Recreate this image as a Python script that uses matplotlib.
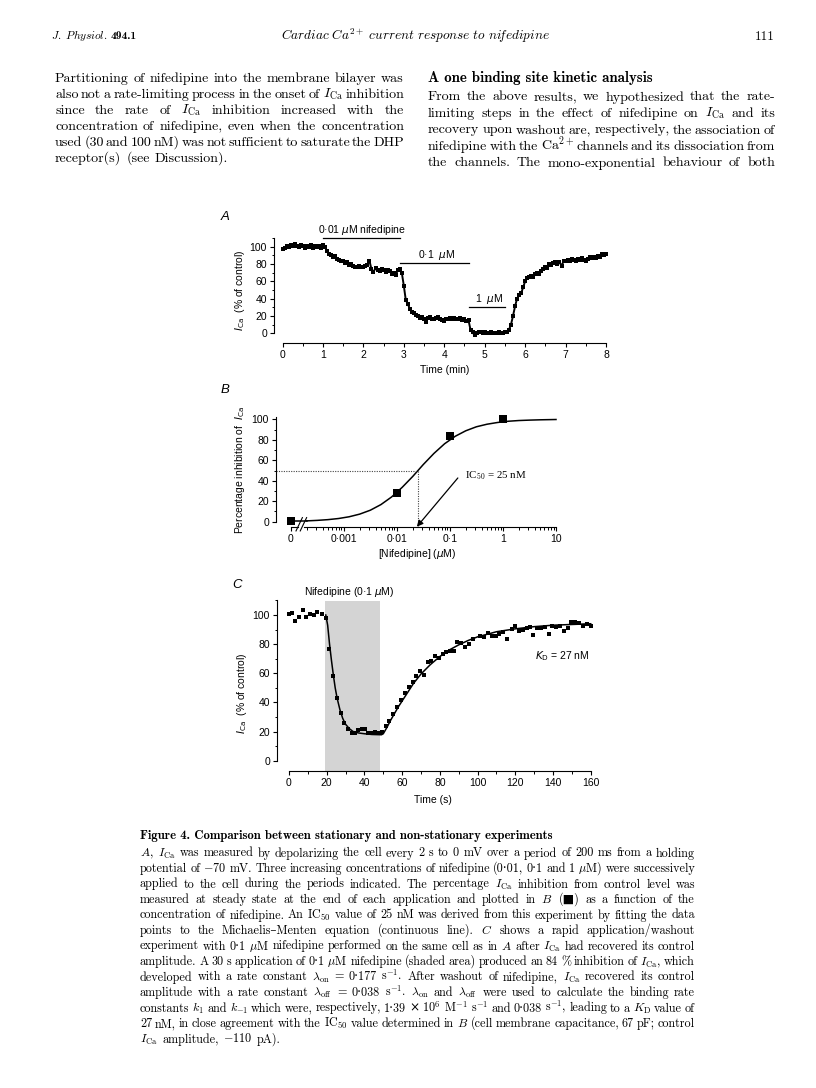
import matplotlib
matplotlib.use('Agg')
import matplotlib.pyplot as plt
import numpy as np
from matplotlib.patches import Rectangle

W, H = 816, 1088
plt.rcParams['mathtext.fontset'] = 'cm'
fig = plt.figure(figsize=(W / 100, H / 100), dpi=100)
fig.patch.set_facecolor('white')
renderer = fig.canvas.get_renderer()

SERIF = ['cmr10', 'DejaVu Serif', 'DejaVu Sans']
SERIF_B = ['cmb10', 'DejaVu Serif', 'DejaVu Sans']
SANS = ['Liberation Sans', 'DejaVu Sans']

# ---------------- data ----------------
# Panel A: I_Ca (% of control) sampled every 0.05 min
timeA_step = 0.05
valuesA = [97, 99, 101, 100, 102, 101, 103, 101, 100, 102,
           101, 99, 101, 100, 102, 99, 101, 100, 101, 99,
           102, 100, 95, 92, 90, 88, 89, 86, 85, 84,
           83, 81, 82, 79, 80, 78, 77, 76, 78, 77,
           76, 78, 79, 84, 74, 71, 75, 73, 72, 74,
           73, 71, 73, 72, 69, 70, 67, 73, 74, 70,
           55, 38, 34, 28, 25, 24, 21, 20, 18, 19,
           17, 13, 18, 19, 17, 16, 18, 19, 16, 15,
           14, 17, 16, 18, 17, 18, 17, 16, 18, 15,
           16, 14, 15, 4, 1, -2, 0, 1, 2, 0,
           1, 0, 0, 1, 0, 0, 0, 1, 0, 0,
           1, 2, 4, 10, 20, 31, 40, 44, 46, 53,
           60, 64, 65, 66, 65, 68, 70, 68, 72, 74,
           76, 75, 80, 79, 81, 82, 80, 82, 78, 83,
           84, 85, 84, 86, 85, 84, 86, 85, 87, 85,
           83, 86, 88, 87, 88, 87, 89, 88, 92, 90,
           91]
drug_labels = ['0·01 $\\mu$M nifedipine', '0·1  $\\mu$M', '1  $\\mu$M']
drug_start = [1.0, 2.9, 4.6]
drug_end = [2.9, 4.6, 5.5]
drug_bar_level = [110, 81, 30.5]

# Panel B: concentration-inhibition
concB = [0, 0.01, 0.1, 1]
inhibB = [1, 28, 84, 100]
fit_logc = [-3.7, -3.5, -3.3, -3.1, -2.9, -2.7, -2.5, -2.3, -2.1, -1.9, -1.7,
            -1.5, -1.3, -1.1, -0.9, -0.7, -0.5, -0.3, -0.1, 0.1, 0.3, 0.5, 0.7, 1.0]
fit_inhib = [0.8, 1.3, 2.0, 3.1, 4.8, 7.4, 11.2, 16.7, 24.1, 33.5, 44.2,
             55.9, 66.7, 76.1, 83.4, 88.8, 92.7, 95.2, 96.9, 98.1, 98.8, 99.2, 99.5, 99.8]
xtick_labelsB = ['0', '0·001', '0·01', '0·1', '1', '10']
ic50 = 0.025

# Panel C: rapid application / washout
timeC = [0, 1.4, 3.2, 5.5, 7.3, 9.0, 11.1, 13.3, 15.0, 17.3, 19.6, 21.4, 23.5, 25.3,
         27.4, 29.2, 31.5, 33.2, 35.0, 36.8, 38.5, 40.3, 42.1, 43.9, 45.6, 47.4, 49.5,
         51.5, 53.2, 55.3, 57.1, 59.2, 61.4, 63.5, 65.6, 67.4, 69.5, 71.6, 73.7, 75.5,
         77.6, 79.4, 81.5, 83.3, 85.4, 87.5, 89.3, 91.4, 93.5, 95.3, 97.4, 101.3, 103.4,
         105.6, 107.7, 109.8, 111.6, 113.7, 115.8, 118.0, 119.7, 121.8, 124.0, 126.1,
         127.9, 129.6, 131.7, 133.9, 136.0, 137.8, 139.5, 141.6, 143.8, 145.9, 148.0,
         149.8, 151.9, 153.7, 155.8, 157.9, 160.0]
valuesC = [100.4, 101.6, 96, 98.4, 103.4, 98.8, 100.4, 100, 102.3, 101, 98, 77, 58, 43,
           32.5, 26, 22, 18.8, 19.2, 21, 22, 21.5, 19.2, 19.2, 19.4, 19.2, 20,
           23.8, 27.2, 32, 36.6, 42, 46.2, 50.3, 54.2, 58.1, 61.8, 58.6, 68, 68.6,
           71.8, 70.2, 73.2, 74.8, 75.5, 75.5, 81.2, 81, 78.2, 80, 83.5, 85.8, 85.1,
           87.9, 85.6, 85.6, 86.7, 88.5, 83.3, 90.1, 92.4, 89, 89.7, 90.8,
           92, 86.3, 90.8, 91.3, 92, 87, 92.4, 91.5, 92.4, 89.2, 90.8,
           95.4, 95.4, 94.3, 92.4, 93.8, 92.4]
fitC_t = [19.5, 20.5, 21.5, 22.5, 23.5, 24.5, 25.5, 27, 28.5, 30, 32, 34, 37, 40, 44, 49,
          50, 52, 54, 56, 58, 60, 63, 66, 70, 75, 80, 85, 90, 95, 100, 110, 120, 130,
          140, 150, 160]
fitC_v = [100, 93, 80, 69, 59, 50, 43, 35, 29, 25, 22, 20, 19, 18.5, 18, 17.8,
          18.5, 23, 28, 32.5, 37, 41, 47, 53, 59.5, 66, 71.5, 76, 79.5, 82.5, 85, 88.5,
          90.5, 92, 93, 93.5, 94]
shade_start, shade_end = 19, 48.5


# ---------------- helpers ----------------
def fx(px):
    return px / W


def fy(py):
    return 1 - py / H


def ftext(x, y, s, **kw):
    return fig.text(fx(x), fy(y), s, **kw)


def text_width(s, size, family):
    t = fig.text(0, 0, s, fontsize=size, family=family)
    w = t.get_window_extent(renderer).width
    t.remove()
    return w


def fit_size(lines, x0, x1, family, gap_em=0.36, s0=10.0):
    sizes = []
    for line in lines[:-1]:
        words = line.split(' ')
        wsum = sum(text_width(w, s0, family) for w in words)
        sizes.append((x1 - x0) / (wsum / s0 + (len(words) - 1) * gap_em * 100 / 72))
    return float(np.median(sizes))


def fit_to_width(s, width, family, s0=10.0):
    return s0 * width / text_width(s, s0, family)


def justify(line, x0, x1, yb, size, family, last=False):
    words = line.split(' ')
    texts = [fig.text(0, fy(yb), w, fontsize=size, family=family,
                      va='baseline', ha='left') for w in words]
    widths = [t.get_window_extent(renderer).width for t in texts]
    n = len(words)
    if last or n == 1:
        gap = size * 100 / 72 * 0.36
    else:
        gap = (x1 - x0 - sum(widths)) / (n - 1)
    x = x0
    for t, w in zip(texts, widths):
        t.set_x(fx(x))
        x += w + gap


def place_axes(xa_px, xa, xb_px, xb, ya_px, ya, yb_px, yb, xlim, ylim):
    sx = (xb_px - xa_px) / (xb - xa)
    sy = (yb_px - ya_px) / (yb - ya)
    l = xa_px + (xlim[0] - xa) * sx
    r = xa_px + (xlim[1] - xa) * sx
    b = ya_px + (ylim[0] - ya) * sy
    t = ya_px + (ylim[1] - ya) * sy
    ax = fig.add_axes([l / W, 1 - b / H, (r - l) / W, (b - t) / H])
    ax.set_xlim(xlim)
    ax.set_ylim(ylim)
    ax.patch.set_alpha(0)
    for s in ['top', 'right']:
        ax.spines[s].set_visible(False)
    for s in ['left', 'bottom']:
        ax.spines[s].set_linewidth(0.8)
    ax.tick_params(which='major', direction='out', length=3, width=0.8,
                   labelsize=7.5, pad=2)
    ax.tick_params(which='minor', direction='out', length=1.8, width=0.7)
    return ax


def sans_ticklabels(ax):
    for lab in ax.get_xticklabels() + ax.get_yticklabels():
        lab.set_family(SANS)
        lab.set_fontsize(7.5)


# ---------------- page header ----------------
hdr1 = '$\\mathit{J.\\ Physiol.}$'
ftext(51, 39, hdr1, fontsize=8.2, family=SERIF, va='baseline')
ftext(51 + text_width(hdr1, 8.2, SERIF) + 3, 39, '494.1', fontsize=8.2, family=SERIF_B,
      va='baseline')
title = '$\\mathit{Cardiac\\ Ca^{2+}\\ current\\ response\\ to\\ ni\\!fedipine}$'
ftext(415, 40, title, fontsize=fit_to_width(title, 269, SERIF), family=SERIF,
      va='baseline', ha='center')
ftext(775, 40, '111', fontsize=9.5, family=SERIF, va='baseline', ha='right')

# ---------------- top body text ----------------
left_lines = [
    'Partitioning of nifedipine into the membrane bilayer was',
    'also not a rate-limiting process in the onset of $I_\\mathrm{Ca}$ inhibition',
    'since the rate of $I_\\mathrm{Ca}$ inhibition increased with the',
    'concentration of nifedipine, even when the concentration',
    'used (30 and 100 nM) was not sufficient to saturate the DHP',
    'receptor(s) (see Discussion).',
]
right_lines = [
    'From the above results, we hypothesized that the rate-',
    'limiting steps in the effect of nifedipine on $I_\\mathrm{Ca}$ and its',
    'recovery upon washout are, respectively, the association of',
    'nifedipine with the Ca$^{2+}$ channels and its dissociation from',
    'the channels. The mono-exponential behaviour of both',
]
body_size = fit_size(left_lines + right_lines + ['x'], 55, 404, SERIF)
for i, line in enumerate(left_lines):
    justify(line, 55, 404, 82 + 16 * i, body_size, SERIF,
            last=(i == len(left_lines) - 1))
heading = 'A one binding site kinetic analysis'
ftext(428, 82, heading, fontsize=fit_to_width(heading, 225, SERIF_B), family=SERIF_B,
      va='baseline')
for i, line in enumerate(right_lines):
    justify(line, 428, 775, 100.5 + 16.5 * i, body_size, SERIF)

# ---------------- panel A ----------------
axA = place_axes(282.5, 0, 606, 8, 333.3, 0, 246.7, 100,
                 xlim=(-0.21, 8.05), ylim=(-11.2, 112))
tA = np.round(np.arange(len(valuesA)) * timeA_step, 2)
axA.plot(tA, valuesA, '-', color='k', lw=1.4, marker='s', ms=2.2, mew=0, clip_on=False)
axA.spines['bottom'].set_bounds(0, 8)
axA.spines['left'].set_bounds(0, 110)
axA.set_xticks(range(0, 9))
axA.set_xticks(np.arange(0, 8.01, 0.5), minor=True)
axA.set_yticks(range(0, 101, 20))
axA.set_yticks(range(0, 111, 10), minor=True)
sans_ticklabels(axA)
for lab, s, e, lev in zip(drug_labels, drug_start, drug_end, drug_bar_level):
    axA.plot([s, e], [lev, lev], color='k', lw=0.9, clip_on=False)
    axA.text((s + e) / 2 + (0.05 if lev < 100 else 0.02), lev + 9.5, lab, ha='center',
             va='center', fontsize=7.5, family=SANS, math_fontfamily='dejavusans')
ftext(225, 217, 'A', fontsize=9.5, family=SANS, style='italic', ha='center', va='center')
ftext(240, 290, '$I_\\mathrm{Ca}$  (% of control)', fontsize=7.5, family=SANS,
      rotation=90, ha='center', va='center', math_fontfamily='dejavusans')
ftext(445, 370, 'Time (min)', fontsize=7.5, family=SANS, ha='center', va='center')

# ---------------- panel B ----------------
axB = place_axes(290.7, -4, 556, 1, 521.7, 0, 419.3, 100,
                 xlim=(-4.28, 1.02), ylim=(-4.9, 106))
posB = [np.log10(c) if c > 0 else -4 for c in concB]
axB.plot([-4, fit_logc[0]], [fit_inhib[0], fit_inhib[0]], color='k', lw=1.1)
axB.plot(fit_logc, fit_inhib, color='k', lw=1.1)
axB.plot(posB, inhibB, 's', color='k', ms=5.2, mew=0, clip_on=False)
axB.spines['bottom'].set_visible(False)
axB.spines['left'].set_bounds(0, 102)
axB.set_xticks([-4, -3, -2, -1, 0, 1])
axB.set_xticklabels(xtick_labelsB)
minorB = [np.log10(k * 10.0 ** d) for d in range(-4, 1) for k in range(2, 10)]
axB.set_xticks(minorB, minor=True)
axB.set_yticks(range(0, 101, 20))
axB.set_yticks(range(0, 101, 10), minor=True)
sans_ticklabels(axB)
yb0 = -4.9
axB.plot([-4, -3.86], [yb0, yb0], color='k', lw=0.8, clip_on=False)
axB.plot([-3.74, 1.0], [yb0, yb0], color='k', lw=0.8, clip_on=False)
for dx in (-3.9, -3.82):
    axB.plot([dx, dx + 0.12], [-9, 4], color='k', lw=0.8, clip_on=False)
lic = np.log10(ic50)
axB.plot([-4.28, lic], [50, 50], ls=(0, (1, 1.2)), color='#444444', lw=0.8)
axB.plot([lic, lic], [50, yb0], ls=(0, (1, 1.2)), color='#444444', lw=0.8)
axB.annotate('', xy=(lic - 0.02, yb0), xytext=(-0.85, 42.7),
             arrowprops=dict(arrowstyle='-|>', color='k', lw=0.9, mutation_scale=9,
                             shrinkA=0, shrinkB=0))
axB.text(-0.71, 44.7, 'IC$_{50}$ = 25 nM', fontsize=7.8, family=['Liberation Serif'],
         va='center', ha='left')
ftext(225, 390, 'B', fontsize=9.5, family=SANS, style='italic', ha='center', va='center')
ftext(240, 470, 'Percentage inhibition of  $I_\\mathrm{Ca}$', fontsize=7.5, family=SANS,
      rotation=90, ha='center', va='center', math_fontfamily='dejavusans')
ftext(417, 554, '[Nifedipine] ($\\mu$M)', fontsize=7.5, family=SANS, ha='center',
      va='center', math_fontfamily='dejavusans')

# ---------------- panel C ----------------
axC = place_axes(289, 0, 590.7, 160, 760.7, 0, 615, 100,
                 xlim=(-6.4, 162), ylim=(-7.1, 112))
axC.add_patch(Rectangle((shade_start, -7.1), shade_end - shade_start, 116.5,
                        facecolor='#d4d4d4', edgecolor='none', zorder=0))
axC.plot(fitC_t, fitC_v, color='k', lw=1.1)
axC.plot(timeC, valuesC, 's', color='k', ms=3.4, mew=0, clip_on=False)
axC.spines['bottom'].set_bounds(0, 160)
axC.spines['left'].set_bounds(0, 110)
axC.set_xticks(range(0, 161, 20))
axC.set_xticks(range(0, 161, 10), minor=True)
axC.set_yticks(range(0, 101, 20))
axC.set_yticks(range(0, 111, 10), minor=True)
sans_ticklabels(axC)
ftext(237, 585, 'C', fontsize=9.5, family=SANS, style='italic', ha='center', va='center')
ftext(349, 592, 'Nifedipine (0·1 $\\mu$M)', fontsize=7.5, family=SANS, ha='center',
      va='center', math_fontfamily='dejavusans')
ftext(535, 656, '$K_\\mathrm{D}$ = 27 nM', fontsize=7.5, family=SANS, ha='left',
      va='center', math_fontfamily='dejavusans')
ftext(242, 693, '$I_\\mathrm{Ca}$  (% of control)', fontsize=7.5, family=SANS,
      rotation=90, ha='center', va='center', math_fontfamily='dejavusans')
ftext(433, 800, 'Time (s)', fontsize=7.5, family=SANS, ha='center', va='center')

# ---------------- caption ----------------
cap_head = 'Figure 4. Comparison between stationary and non-stationary experiments'
ftext(140, 839, cap_head, fontsize=fit_to_width(cap_head, 412, SERIF_B), family=SERIF_B,
      va='baseline')
cap_lines = [
    '$A$, $I_\\mathrm{Ca}$ was measured by depolarizing the cell every 2 s to 0 mV over a period of 200 ms from a holding',
    'potential of $-$70 mV. Three increasing concentrations of nifedipine (0·01, 0·1 and 1 $\\mu$M) were successively',
    'applied to the cell during the periods indicated. The percentage $I_\\mathrm{Ca}$ inhibition from control level was',
    'measured at steady state at the end of each application and plotted in $B$ (■) as a function of the',
    'concentration of nifedipine. An IC$_{50}$ value of 25 nM was derived from this experiment by fitting the data',
    'points to the Michaelis–Menten equation (continuous line). $C$ shows a rapid application/washout',
    'experiment with 0·1 $\\mu$M nifedipine performed on the same cell as in $A$ after $I_\\mathrm{Ca}$ had recovered its control',
    'amplitude. A 30 s application of 0·1 $\\mu$M nifedipine (shaded area) produced an 84 % inhibition of $I_\\mathrm{Ca}$, which',
    'developed with a rate constant $\\lambda_\\mathrm{on}$ = 0·177 s$^{-1}$. After washout of nifedipine, $I_\\mathrm{Ca}$ recovered its control',
    'amplitude with a rate constant $\\lambda_\\mathrm{off}$ = 0·038 s$^{-1}$. $\\lambda_\\mathrm{on}$ and $\\lambda_\\mathrm{off}$ were used to calculate the binding rate',
    'constants $k_1$ and $k_{-1}$ which were, respectively, 1·39 × 10$^6$ M$^{-1}$ s$^{-1}$ and 0·038 s$^{-1}$, leading to a $K_\\mathrm{D}$ value of',
    '27 nM, in close agreement with the IC$_{50}$ value determined in $B$ (cell membrane capacitance, 67 pF; control',
    '$I_\\mathrm{Ca}$ amplitude, $-$110 pA).',
]
cap_size = fit_size(cap_lines, 140, 695, SERIF, gap_em=0.33)
for i, line in enumerate(cap_lines):
    justify(line, 140, 695, 856.5 + 15.5 * i, cap_size, SERIF,
            last=(i == len(cap_lines) - 1))

fig.savefig('out.png', dpi=100, facecolor='white')
